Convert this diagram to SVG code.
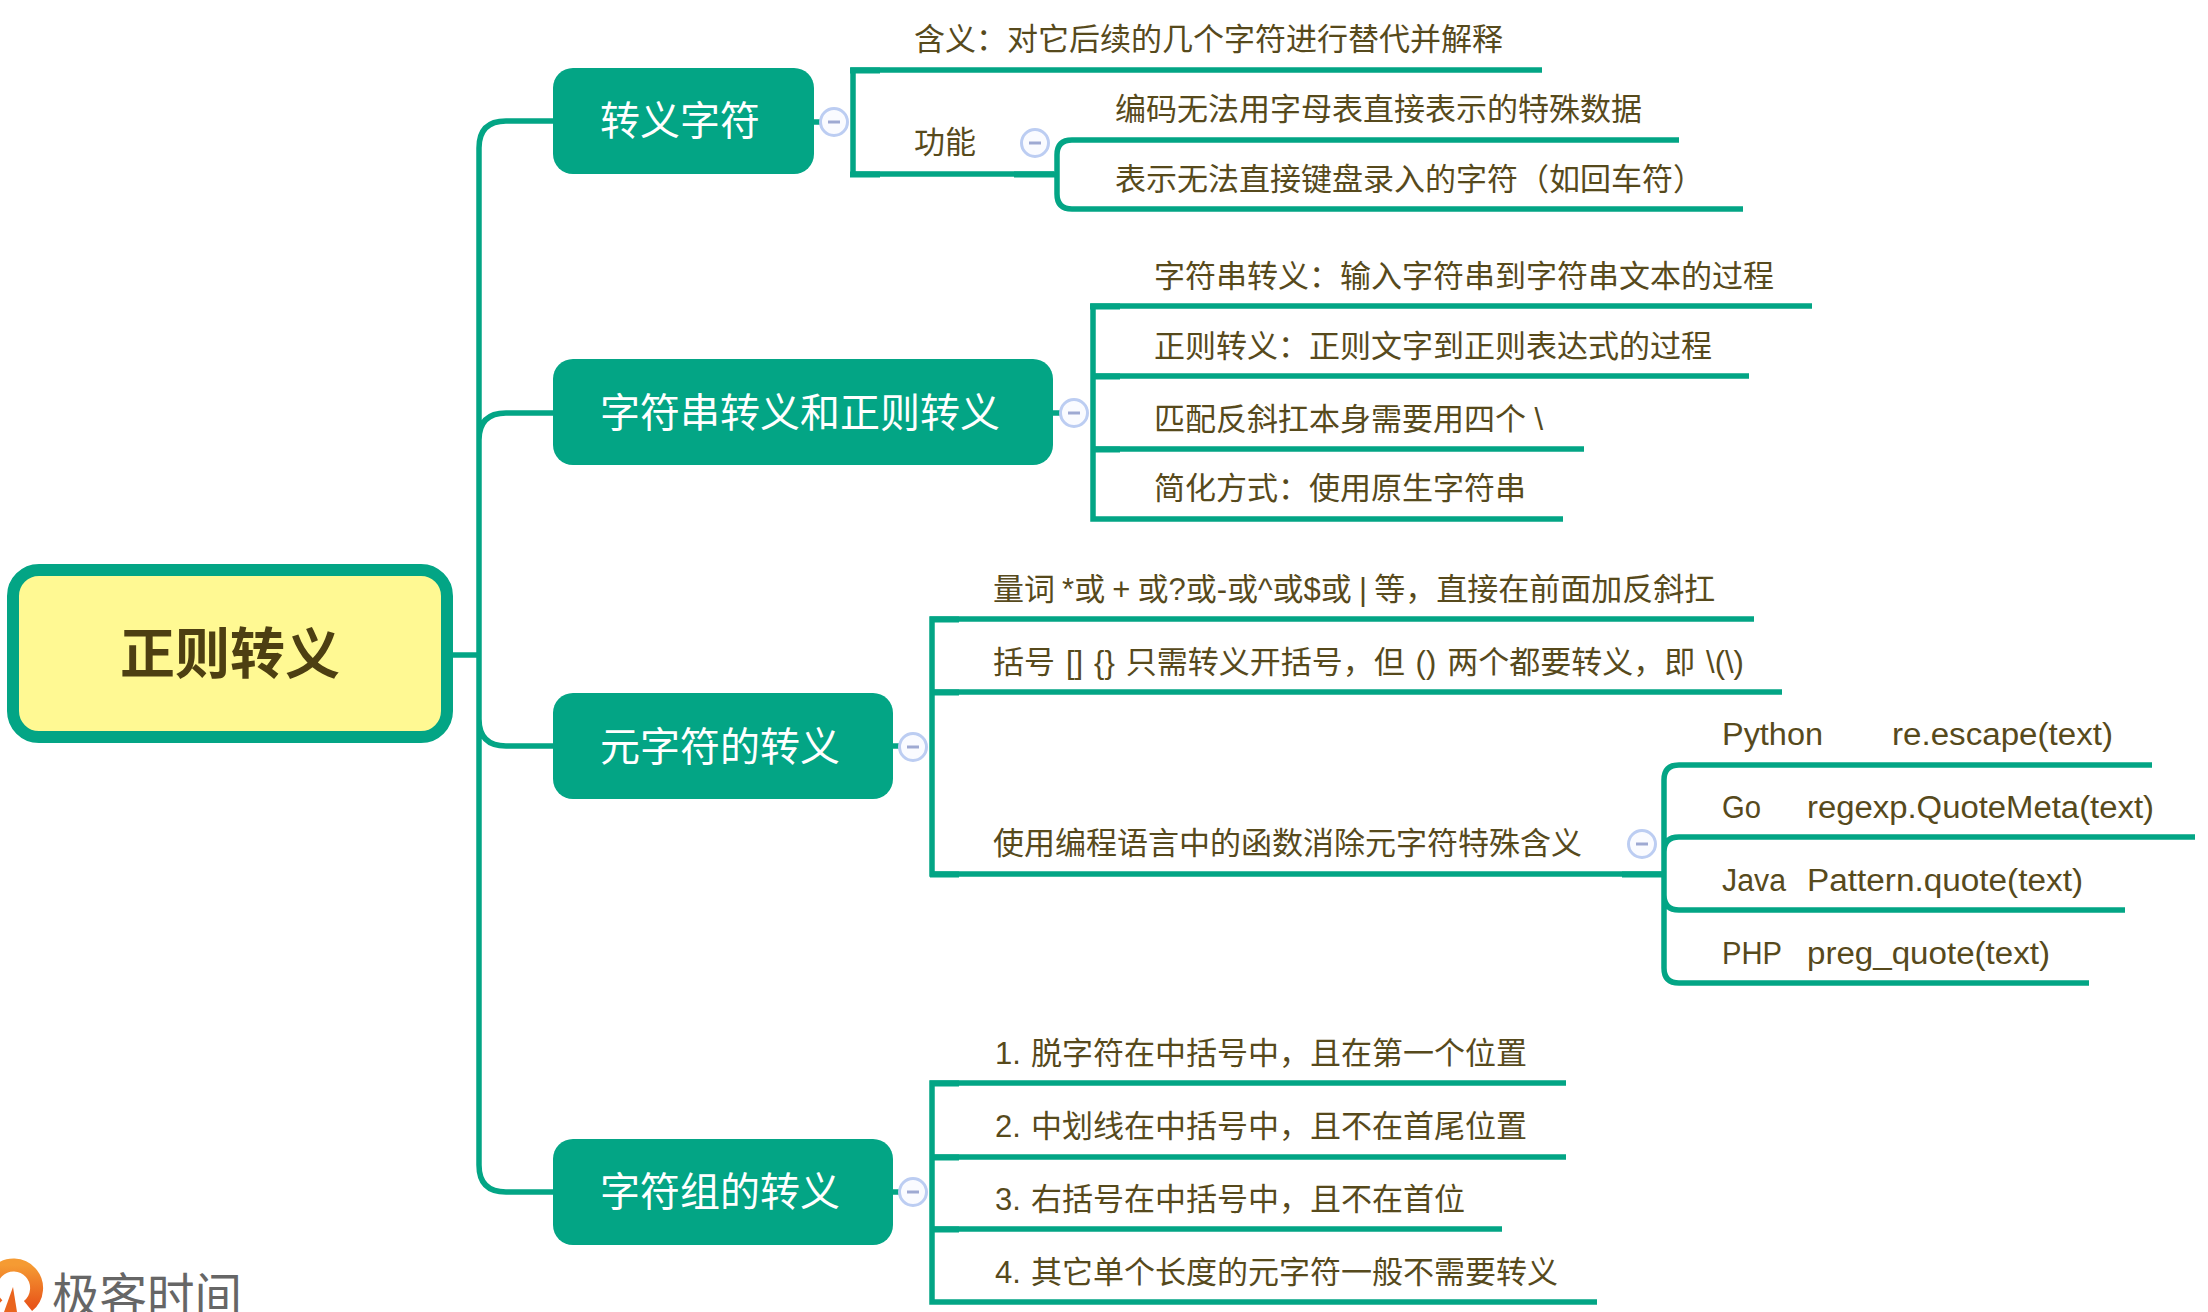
<svg xmlns="http://www.w3.org/2000/svg" width="2208" height="1312" viewBox="0 0 2208 1312">
<defs>
<style>
text{font-family:"Liberation Sans","Noto Sans CJK SC",sans-serif}
.c{fill:none;stroke:#03a585;stroke-width:5.5}
.s{fill:none;stroke:#03a585;stroke-width:6.2}
.t{font-size:31px;fill:#574a1c}
.n{fill:#03a585}
.nt{font-size:40px;fill:#fff;text-anchor:middle}
.b circle{fill:#fafbff;stroke:#bccdf2;stroke-width:3}
.b line{stroke:#9ea9d2;stroke-width:3}
</style>
<linearGradient id="og" x1="0" y1="0" x2="0" y2="1"><stop offset="0" stop-color="#f59b33"/><stop offset="1" stop-color="#e8561a"/></linearGradient>
<g id="bl" class="b"><circle r="13.5"/><line x1="-6" x2="6"/></g>
</defs>
<rect width="2208" height="1312" fill="#fff"/>
<g id="connectors">
<path class="c" d="M453 655H479M553 121H506Q479 121 479 148V1165Q479 1192 506 1192H553M553 413H506Q479 413 479 440V719Q479 746 506 746H553"/>
<path class="c" d="M814 122H821M1542 70H853V174H1054"/>
<path class="c" d="M1679 140H1072Q1057 140 1057 155V194Q1057 209 1072 209H1743"/>
<path class="c" d="M1053 413H1060M1812 306H1093V519H1563M1093 376H1749M1093 449H1584"/>
<path class="c" d="M893 746H900M1754 619H932V874H1664M932 692H1782"/>
<path class="c" d="M2152 765H1679Q1664 765 1664 780V968Q1664 983 1679 983H2089M1664 852Q1664 837 1679 837H2195M1664 895Q1664 910 1679 910H2125"/>
<path class="c" d="M893 1192H900M1566 1083H932V1302H1597M932 1157H1566M932 1229H1502"/>
<path class="s" d="M850 70.500H880M850 174.500H880M1014 174.500H1056M1090 306.500H1120M1093 376.500H1120M1093 449.500H1120M930 619.500H959M932 692.500H959M930 874.500H959M1622 874.500H1664M930 1083.500H959M932 1157.500H959M932 1229.500H959"/>
</g>
<g id="root"><rect x="13" y="570" width="434" height="167" rx="26" fill="#fff993" stroke="#03a585" stroke-width="12"/><text x="230" y="673" font-size="55" font-weight="bold" fill="#4d3f12" text-anchor="middle">正则转义</text></g>
<g id="n1"><rect class="n" x="553" y="68" width="261" height="106" rx="20"/><text class="nt" x="680" y="135">转义字符</text></g>
<g id="n2"><rect class="n" x="553" y="359" width="500" height="106" rx="20"/><text class="nt" x="800" y="427">字符串转义和正则转义</text></g>
<g id="n3"><rect class="n" x="553" y="693" width="340" height="106" rx="20"/><text class="nt" x="720" y="761">元字符的转义</text></g>
<g id="n4"><rect class="n" x="553" y="1139" width="340" height="106" rx="20"/><text class="nt" x="720" y="1206">字符组的转义</text></g>
<g id="b1"><use href="#bl" x="834" y="122"/></g>
<g id="b2"><use href="#bl" x="1035" y="143"/></g>
<g id="b3"><use href="#bl" x="1074" y="413"/></g>
<g id="b4"><use href="#bl" x="913" y="747"/></g>
<g id="b5"><use href="#bl" x="1642" y="844"/></g>
<g id="b6"><use href="#bl" x="913" y="1192"/></g>
<g id="leaf1"><text class="t" x="914" y="50">含义：对它后续的几个字符进行替代并解释</text></g>
<g id="leaf2"><text class="t" x="914" y="153">功能</text></g>
<g id="leaf3"><text class="t" x="1115" y="120">编码无法用字母表直接表示的特殊数据</text></g>
<g id="leaf4"><text class="t" x="1115" y="190">表示无法直接键盘录入的字符（如回车符）</text></g>
<g id="leaf5"><text class="t" x="1154" y="287">字符串转义：输入字符串到字符串文本的过程</text></g>
<g id="leaf6"><text class="t" x="1154" y="357">正则转义：正则文字到正则表达式的过程</text></g>
<g id="leaf7"><text class="t" x="1154" y="430">匹配反斜扛本身需要用四个 \</text></g>
<g id="leaf8"><text class="t" x="1154" y="499">简化方式：使用原生字符串</text></g>
<g id="leaf9"><text class="t" x="993" y="600" word-spacing="-1.500">量词 *或 + 或?或-或^或$或 | 等，直接在前面加反斜扛</text></g>
<g id="leaf10"><text class="t" x="993" y="673" word-spacing="2.300">括号 [] {} 只需转义开括号，但 () 两个都要转义，即 \(\)</text></g>
<g id="leaf11"><text class="t" x="993" y="854">使用编程语言中的函数消除元字符特殊含义</text></g>
<g id="leaf12"><text class="t" x="1722" y="745" textLength="101" lengthAdjust="spacingAndGlyphs">Python</text><text class="t" x="1892" y="745" textLength="221" lengthAdjust="spacingAndGlyphs">re.escape(text)</text></g>
<g id="leaf13"><text class="t" x="1722" y="818" textLength="39" lengthAdjust="spacingAndGlyphs">Go</text><text class="t" x="1807" y="818" textLength="347" lengthAdjust="spacingAndGlyphs">regexp.QuoteMeta(text)</text></g>
<g id="leaf14"><text class="t" x="1722" y="891" textLength="64" lengthAdjust="spacingAndGlyphs">Java</text><text class="t" x="1807" y="891" textLength="276" lengthAdjust="spacingAndGlyphs">Pattern.quote(text)</text></g>
<g id="leaf15"><text class="t" x="1722" y="964" textLength="60" lengthAdjust="spacingAndGlyphs">PHP</text><text class="t" x="1807" y="964" textLength="243" lengthAdjust="spacingAndGlyphs">preg_quote(text)</text></g>
<g id="leaf16"><text class="t" x="995" y="1064">1.<tspan x="1031">脱字符在中括号中，且在第一个位置</tspan></text></g>
<g id="leaf17"><text class="t" x="995" y="1137">2.<tspan x="1031">中划线在中括号中，且不在首尾位置</tspan></text></g>
<g id="leaf18"><text class="t" x="995" y="1210">3.<tspan x="1031">右括号在中括号中，且不在首位</tspan></text></g>
<g id="leaf19"><text class="t" x="995" y="1283">4.<tspan x="1031">其它单个长度的元字符一般不需要转义</tspan></text></g>
<g id="logo">
<path d="M-2 1305A23 23 0 1 1 28 1306" fill="none" stroke="url(#og)" stroke-width="13"/>
<path d="M13 1287L17 1312H4Z" fill="#ea641e"/>
<text x="52" y="1313" font-size="47.5" fill="#666">极客时间</text>
</g>
</svg>
